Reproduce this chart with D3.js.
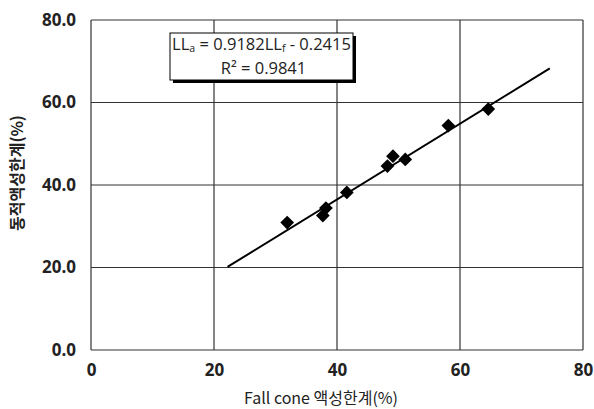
<!DOCTYPE html>
<html>
<head>
<meta charset="utf-8">
<script src="https://cdnjs.cloudflare.com/ajax/libs/d3/7.8.5/d3.min.js"></script>
<style>
  body { margin: 0; background: #fff; }
  svg text { font-family: "Noto Sans CJK KR", "Open Sans", sans-serif; fill: #222; }
</style>
</head>
<body>
<svg id="chart" width="594" height="409"></svg>
<script>
// Fall cone liquid limit vs dynamic liquid limit (%)
const fallCone = [31.9, 37.7, 38.2, 41.6, 48.2, 49.1, 51.1, 58.1, 64.6];
const dynamicLL = [30.9, 32.6, 34.4, 38.2, 44.6, 47.0, 46.2, 54.4, 58.4];
const xTicks = [0, 20, 40, 60, 80];
const yTicks = [0, 20, 40, 60, 80];
const slope = 0.9182, intercept = -0.2415;
const fitRange = [22.2, 74.6];

const svg = d3.select("#chart");
const m = { left: 91, right: 583, top: 20, bottom: 350 };
const x = d3.scaleLinear().domain([0, 80]).range([m.left, m.right]);
const y = d3.scaleLinear().domain([0, 80]).range([m.bottom, m.top]);

// grid
const grid = svg.append("g").attr("stroke", "#333").attr("stroke-width", 1.2);
xTicks.forEach(t => grid.append("line")
  .attr("x1", x(t)).attr("x2", x(t)).attr("y1", m.top).attr("y2", m.bottom));
yTicks.forEach(t => grid.append("line")
  .attr("x1", m.left).attr("x2", m.right).attr("y1", y(t)).attr("y2", y(t)));

// tick labels via d3 axes (no lines)
const xAxis = svg.append("g").attr("transform", `translate(0,${m.bottom})`)
  .call(d3.axisBottom(x).tickValues(xTicks).tickSize(0).tickPadding(14).tickFormat(d3.format("d")));
const yAxis = svg.append("g").attr("transform", `translate(${m.left},0)`)
  .call(d3.axisLeft(y).tickValues(yTicks).tickSize(0).tickPadding(15).tickFormat(d3.format(".1f")));
[xAxis, yAxis].forEach(a => {
  a.select(".domain").remove();
  a.selectAll("text").attr("font-size", 17).attr("font-weight", "bold")
    .style("font-family", "'Open Sans', sans-serif").attr("fill", "#222");
});

// trend line
svg.append("line")
  .attr("x1", x(fitRange[0])).attr("y1", y(slope * fitRange[0] + intercept))
  .attr("x2", x(fitRange[1])).attr("y2", y(slope * fitRange[1] + intercept))
  .attr("stroke", "#000").attr("stroke-width", 2);

// markers
svg.append("g").selectAll("path").data(fallCone).join("path")
  .attr("transform", (d, i) => `translate(${x(d)},${y(dynamicLL[i])})`)
  .attr("d", d3.symbol().type(d3.symbolDiamond2).size(120))
  .attr("fill", "#000");

// equation box
const bx = 170, by = 33, bw = 183, bh = 47;
svg.append("rect").attr("x", bx + 3).attr("y", by + 3).attr("width", bw).attr("height", bh).attr("fill", "#000");
svg.append("rect").attr("x", bx).attr("y", by).attr("width", bw).attr("height", bh)
  .attr("fill", "#fff").attr("stroke", "#000").attr("stroke-width", 1);
const cx = bx + bw / 2;
const eq = svg.append("text").attr("x", cx).attr("y", by + 17)
  .attr("text-anchor", "middle").attr("font-size", 16.5)
  .style("font-family", "'Open Sans', sans-serif").attr("fill", "#111");
eq.append("tspan").text("LL");
eq.append("tspan").attr("font-size", 10.5).attr("dy", 2).text("a");
eq.append("tspan").attr("dy", -2).text(" = 0.9182LL");
eq.append("tspan").attr("font-size", 10.5).attr("dy", 2).text("f");
eq.append("tspan").attr("dy", -2).text(" - 0.2415");
svg.append("text").attr("x", cx + 2).attr("y", by + 41)
  .attr("text-anchor", "middle").attr("font-size", 16.5)
  .style("font-family", "'Open Sans', sans-serif").attr("fill", "#111")
  .text("R² = 0.9841");

// axis titles
svg.append("text").attr("x", 321).attr("y", 404).attr("text-anchor", "middle")
  .attr("font-size", 16).text("Fall cone 액성한계(%)");
svg.append("text").attr("transform", "translate(23,173) rotate(-90)")
  .attr("text-anchor", "middle").attr("font-size", 16).attr("font-weight", "bold")
  .text("동적액성한계(%)");
</script>
</body>
</html>
